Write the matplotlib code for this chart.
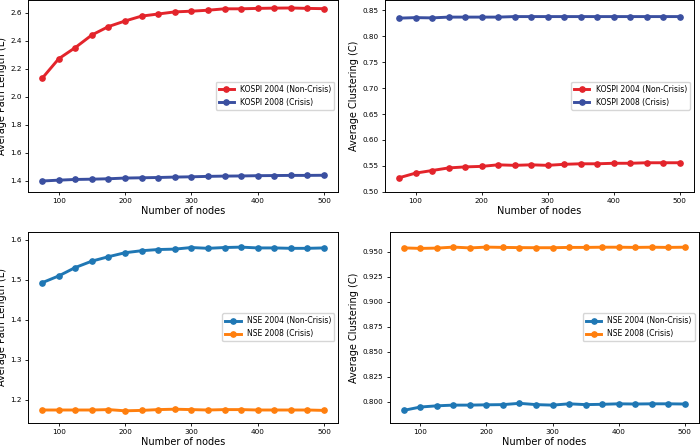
import matplotlib.pyplot as plt
import numpy as np

nodes = [75, 100, 125, 150, 175, 200, 225, 250, 275, 300, 325, 350, 375, 400, 425, 450, 475, 500]

# KOSPI
kospi_L_2004 = [2.13, 2.27, 2.35, 2.44, 2.50, 2.54, 2.575, 2.59, 2.605, 2.61, 2.617, 2.627,
                2.627, 2.630, 2.632, 2.633, 2.630, 2.628]
kospi_L_2008 = [1.397, 1.403, 1.408, 1.410, 1.413, 1.418, 1.420, 1.422, 1.425, 1.427, 1.430,
                1.432, 1.433, 1.435, 1.436, 1.437, 1.437, 1.438]
kospi_C_2004 = [0.527, 0.536, 0.541, 0.546, 0.548, 0.549, 0.552, 0.551, 0.552, 0.551, 0.553,
                0.554, 0.554, 0.555, 0.555, 0.556, 0.556, 0.556]
kospi_C_2008 = [0.835, 0.836, 0.8355, 0.837, 0.837, 0.837, 0.837, 0.838, 0.838, 0.838, 0.838,
                0.838, 0.838, 0.838, 0.838, 0.838, 0.838, 0.838]

# NSE
nse_L_2004 = [1.493, 1.510, 1.531, 1.547, 1.558, 1.568, 1.573, 1.576, 1.577, 1.581, 1.579,
              1.581, 1.582, 1.580, 1.580, 1.579, 1.579, 1.580]
nse_L_2008 = [1.175, 1.175, 1.175, 1.175, 1.176, 1.173, 1.174, 1.176, 1.177, 1.176, 1.175,
              1.176, 1.176, 1.175, 1.175, 1.175, 1.175, 1.174]
nse_C_2004 = [0.7915, 0.7948, 0.7960, 0.7967, 0.7967, 0.7970, 0.7972, 0.7985, 0.7972, 0.7967,
              0.7980, 0.7972, 0.7975, 0.7980, 0.7978, 0.7980, 0.7980, 0.7978]
nse_C_2008 = [0.9540, 0.9535, 0.9538, 0.9548, 0.9540, 0.9548, 0.9545, 0.9543, 0.9542, 0.9542,
              0.9545, 0.9545, 0.9547, 0.9547, 0.9545, 0.9547, 0.9545, 0.9547]

RED = '#e3242b'
NAVY = '#3a4fa0'

fig = plt.figure(figsize=(7.0, 4.46), dpi=100)

panels = [
    # rect, y1, y2, labels, colors, ylabel, ylim
    ([0.040, 0.570, 0.443, 0.430], kospi_L_2004, kospi_L_2008,
     ['KOSPI 2004 (Non-Crisis)', 'KOSPI 2008 (Crisis)'], [RED, NAVY],
     'Average Path Length (L)', (1.32, 2.69)),
    ([0.550, 0.570, 0.441, 0.430], kospi_C_2004, kospi_C_2008,
     ['KOSPI 2004 (Non-Crisis)', 'KOSPI 2008 (Crisis)'], [RED, NAVY],
     'Average Clustering (C)', (0.50, 0.87)),
    ([0.040, 0.052, 0.443, 0.428], nse_L_2004, nse_L_2008,
     ['NSE 2004 (Non-Crisis)', 'NSE 2008 (Crisis)'], ['tab:blue', 'tab:orange'],
     'Average Path Length (L)', (1.143, 1.62)),
    ([0.557, 0.052, 0.441, 0.428], nse_C_2004, nse_C_2008,
     ['NSE 2004 (Non-Crisis)', 'NSE 2008 (Crisis)'], ['tab:blue', 'tab:orange'],
     'Average Clustering (C)', (0.779, 0.970)),
]

for rect, y1, y2, labels, colors, ylabel, ylim in panels:
    ax = fig.add_axes(rect)
    ax.plot(nodes, y1, marker='o', color=colors[0], linewidth=2.1, markersize=3.8, label=labels[0])
    ax.plot(nodes, y2, marker='o', color=colors[1], linewidth=2.1, markersize=3.8, label=labels[1])
    ax.set_xlabel('Number of nodes', fontsize=7, labelpad=1.5)
    ax.set_ylabel(ylabel, fontsize=7, labelpad=2.5)
    ax.set_ylim(*ylim)
    ax.set_xticks([100, 200, 300, 400, 500])
    ax.tick_params(labelsize=5.2, length=2.5, width=0.6, pad=2)
    for s in ax.spines.values():
        s.set_linewidth(0.7)
    ax.legend(loc='center right', fontsize=5.5)

plt.savefig('out.png', dpi=100)
